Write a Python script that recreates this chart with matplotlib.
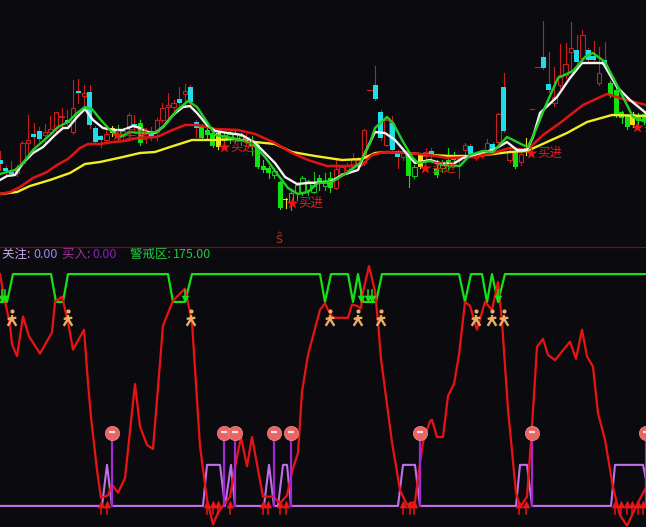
import matplotlib
matplotlib.use('Agg')
import matplotlib.pyplot as plt
from matplotlib.path import Path

plt.rcParams['font.family'] = ['Noto Sans CJK SC', 'DejaVu Sans']

BG = '#0b0b0f'
BAR = 5.6  # one candle every 5.6 units on the time axis

# candles, price axis runs downwards
body_top = [160,168,172,170,143,140,134,131,132,129,112,116,120,108,91,93,92,128,136,134,128,130,131,115,124,123,130,134,120,108,105,103,99,91,87,122,126,130,133,133,135,134,133,136,137,140,145,166,168,171,182,199,193,185,178,181,185,178,180,178,169,167,165,158,160,130,90,85,112,120,123,153,153,155,167,155,152,151,168,163,160,155,157,145,146,155,152,143,144,114,87,152,153,154,148,109,67,57,84,97,75,64,48,50,35,50,56,73,60,83,90,112,115,114,115,114]
body_bot = [164,171,174,173,163,143,137,139,135,132,128,117,123,132,93,96,125,142,140,140,133,137,136,127,127,143,137,137,132,120,107,107,103,94,102,128,138,135,146,147,140,139,138,140,142,146,167,170,173,175,208,200,202,193,192,190,192,183,186,188,188,173,170,167,166,163,90,99,138,145,150,157,157,176,176,167,156,156,175,168,165,160,160,150,154,158,156,150,152,142,131,160,167,162,152,109,67,68,90,103,85,75,52,62,58,60,60,83,65,95,115,118,127,125,121,121]
wick_hi = [151,166,161,165,141,115,123,127,124,116,112,108,110,80,79,85,85,126,135,127,126,125,128,113,115,120,128,127,118,103,93,100,87,84,85,120,124,128,130,131,132,131,130,133,134,136,143,160,166,168,181,198,190,183,176,180,172,175,173,172,160,165,163,153,157,129,90,66,110,118,116,150,150,153,165,153,148,148,160,160,148,152,156,143,144,152,150,139,142,113,73,148,152,152,138,109,67,21,52,67,44,43,22,35,30,48,41,47,42,81,88,111,114,112,113,112]
wick_lo = [170,175,176,176,165,153,145,141,145,135,132,126,125,134,103,107,128,143,147,143,136,142,140,140,130,145,143,140,140,122,117,115,105,107,104,137,140,140,147,149,146,143,142,145,146,155,168,172,178,178,209,208,210,200,195,195,193,190,190,192,189,176,174,170,170,165,90,100,140,146,152,168,160,187,178,168,160,160,177,172,170,165,178,155,156,160,158,152,154,144,132,162,168,165,155,109,67,69,92,106,88,78,70,63,60,62,62,85,67,97,117,123,129,127,127,124]
kinds = ('cccrrrccrrrrcrcrcccry' 'hrrcgrcrrrrcrccgggyh' 'hhhrgggghgyhhhhhghgr'
         'rrrrrrccrccrghyrcghg' 'grrcrrrcrcrgryrrccrr' 'rrcrccrcggggygg')

# moving averages
white_x = [0,7,15,23,33,43,55,63,68,77,85,93,103,113,123,133,140,147,155,163,173,183,190,197,207,215,228,242,255,265,275,285,297,308,330,342,358,365,375,385,395,408,415,430,440,453,463,480,493,507,517,527,533,540,557,570,582,603,617,630,646]
white_y = [180,176,175,163,153,147,135,128,128,117,109,120,128,130,130,126,128,132,133,127,115,107,106,113,125,131,133,135,143,153,163,177,184,183,182,175,170,153,132,133,140,155,163,160,163,164,158,153,150,142,150,150,137,113,97,78,63,63,87,100,113]
green_x = [0,7,15,23,33,42,50,58,68,77,85,92,100,110,120,130,140,148,157,167,177,188,197,207,215,232,252,265,278,288,298,308,318,332,348,360,370,375,387,393,402,412,418,430,443,460,470,483,493,507,523,528,537,545,558,573,585,593,605,617,633,646]
green_y = [174,172,170,163,150,142,135,127,122,113,107,109,119,130,137,132,133,133,132,123,110,101,107,122,135,138,143,157,175,188,194,192,183,182,172,163,143,128,117,123,140,157,163,161,165,166,155,151,152,137,145,147,127,107,78,71,57,53,62,85,117,122]
red_ma_x = [0,10,20,33,47,57,68,80,88,100,113,125,137,157,170,185,197,207,215,238,255,275,292,308,327,347,362,372,385,408,430,447,473,493,510,527,543,560,583,607,623,646]
red_ma_y = [194,192,187,178,172,165,159,148,144,144,142,141,138,137,131,125,125,127,129,130,134,143,153,160,166,166,165,155,152,153,155,158,157,153,148,150,135,123,105,94,99,105]
yellow_x = [0,17,30,50,70,85,100,123,140,155,170,192,205,215,235,255,275,292,315,342,362,375,388,408,430,450,473,493,510,527,547,567,587,612,646]
yellow_y = [194,192,186,180,173,164,162,157,153,152,147,140,140,140,139,142,144,152,156,160,159,153,152,153,155,156,156,154,152,151,142,133,122,115,116]

# buy signals on the price panel
buy_x = [117, 224, 292, 425, 531, 637]
buy_y = [135, 147, 203, 168, 153, 127]
buy_label = '买进'

# indicator panel
warn_x = [0,7,13,51,56,63,68,168,173,185,192,320,325,331,348,353,358,363,376,382,459,465,471,482,487,492,498,505,646]
warn_v = [154,154,175,175,154,154,175,175,154,154,175,175,154,175,175,154,175,154,154,175,175,154,175,175,154,175,154,175,175]
focus_x = [0,102,107,112,203,207,220,225,231,235,264,269,274,278,283,287,291,398,403,415,420,516,520,527,532,611,615,643,646]
focus_v = [0,0,31,0,0,31,31,0,31,0,0,31,0,0,31,31,0,0,31,31,0,0,31,31,0,0,31,31,20]
osc_x = [0,4,10,12,17,23,29,40,52,55,62,68,73,84,88,91,97,101,108,112,118,125,135,140,147,153,163,173,185,192,200,207,213,
         218,230,237,241,247,252,263,273,280,287,292,298,302,308,320,325,328,333,348,352,357,361,362,369,375,378,381,392,400,407,415,419,423,430,
         432,437,443,448,454,459,465,470,477,485,492,498,502,508,516,520,527,532,537,543,548,555,570,576,582,587,593,598,605,613,620,627,637,646]
osc_v = [175,158,137,122,113,143,128,115,131,154,158,139,118,133,93,67,27,6,8,16,10,21,92,60,46,43,136,155,164,139,45,5,-14,
         -5,7,37,52,30,52,7,7,2,8,26,40,86,114,148,153,148,142,142,152,151,149,158,181,162,139,111,48,12,1,3,27,48,64,
         65,52,52,83,92,114,154,151,133,154,148,169,139,73,10,-1,7,60,120,126,114,110,124,111,133,113,105,70,50,14,-7,-15,1,14]
ball_x = [112, 224, 235, 274, 291, 420, 532, 646]
ball_v = 55
runner_x = [12, 68, 191, 330, 358, 381, 476, 492, 504]
runner_v = 140
up_x = [101,107,207,213,218,230,263,268,280,286,403,410,414,519,526,615,621,627,632,638,643]
down_x = [2,5,185,361,368,372,498]

colors = {'r': '#c81e1e', 'c': '#1fdde6', 'g': '#14e014', 'h': '#14c814', 'y': '#e8e020'}
hollow = {'r', 'h'}

fig = plt.figure(figsize=(6.46, 5.27), dpi=100, facecolor=BG)
ax = fig.add_axes([0, 1 - 246 / 527, 1, 246 / 527], facecolor=BG)
ax2 = fig.add_axes([0, 0, 1, 281 / 527], facecolor=BG)

for a in (ax, ax2):
    a.set_xlim(0, 646)
    a.axis('off')
ax.set_ylim(246, 0)
ax2.set_ylim(-15.9, 196.2)

for i in range(116):
    x = i * BAR
    c = colors[kinds[i]]
    wick = colors['r'] if kinds[i] == 'c' else c
    ax.plot([x, x], [wick_hi[i], body_top[i]], color=wick, lw=0.8, zorder=1)
    ax.plot([x, x], [body_bot[i], wick_lo[i]], color=wick, lw=0.8, zorder=1)
    if body_top[i] == body_bot[i]:
        ax.plot([x - 2.3, x + 2.3], [body_top[i]] * 2, color=c, lw=0.8, zorder=1)
    elif kinds[i] in hollow:
        ax.bar(x, body_bot[i] - body_top[i], 4.4, bottom=body_top[i], facecolor=BG, edgecolor=c, lw=0.8, zorder=2)
    else:
        ax.bar(x, body_bot[i] - body_top[i], 5, bottom=body_top[i], color=c, lw=0, zorder=2)

ax.plot(yellow_x, yellow_y, color='#f2ee20', lw=1.7, zorder=3)
ax.plot(red_ma_x, red_ma_y, color='#e01414', lw=1.8, zorder=4)
ax.plot(white_x, white_y, color='#f4f4f4', lw=1.7, zorder=5)
ax.plot(green_x, green_y, color='#22d022', lw=1.7, zorder=6)

ax.scatter(buy_x, buy_y, marker='*', s=80, color='#f01414', lw=0, zorder=7)
for bx, by in zip(buy_x, buy_y):
    ax.text(bx + 6, by, buy_label, color='#d82020', fontsize=9, va='center', ha='left', zorder=7)
ax.text(279, 239, 'ŝ', color='#c02020', fontsize=10, ha='center', va='center')

# separator between the panels
fig.add_artist(plt.Line2D([0, 1], [1 - 246.5 / 527] * 2, color='#701020', lw=0.9))

ax2.plot(focus_x, focus_v, color='#c070e8', lw=1.5, zorder=3)
ax2.plot(warn_x, warn_v, color='#18e018', lw=1.6, zorder=3)
ax2.plot(osc_x, osc_v, color='#e81414', lw=1.6, zorder=4)

for bx in ball_x:
    ax2.plot([bx, bx], [0, ball_v], color='#a028d0', lw=1.6, zorder=5)
ax2.scatter(ball_x, [ball_v] * len(ball_x), s=105, color='#ea6464', edgecolors='#f09090', lw=0.5, zorder=6)
ax2.scatter(ball_x, [ball_v + 1] * len(ball_x), s=22, marker='_', color='#fbe0e0', lw=1.6, zorder=7)

for ux in up_x:
    ax2.plot([ux, ux], [-6, 1], color='#f01414', lw=1.1, zorder=6)
ax2.scatter(up_x, [1.5] * len(up_x), marker='^', s=30, color='#f01414', lw=0, zorder=6)
for dx in down_x:
    ax2.plot([dx, dx], [158, 163], color='#18e018', lw=1.1, zorder=6)
ax2.scatter(down_x, [156.5] * len(down_x), marker='v', s=30, color='#18e018', lw=0, zorder=6)

# little running man
runner = Path([(0, 1), (0, 0.3), (-0.8, -1), (0, 0.3), (0.8, -1), (-0.8, 0.3), (0.8, 0.5)],
              [Path.MOVETO, Path.LINETO, Path.LINETO, Path.MOVETO, Path.LINETO, Path.MOVETO, Path.LINETO])
ax2.scatter(runner_x, [runner_v] * len(runner_x), marker=runner, s=60, facecolors='none', edgecolors='#eeb060', lw=1.7, zorder=7)
ax2.scatter(runner_x, [runner_v + 7] * len(runner_x), s=9, color='#eeb060', lw=0, zorder=7)

labels = [(2, '关注: ', '#c8a8e8'), (33, '0.00', '#9a86e8'), (62, '买入: ', '#a03498'), (92, '0.00', '#8a1cb8'),
          (130, '警戒区: ', '#20c840'), (173, '175.00', '#20c840')]
for lx, s, c in labels:
    ax2.text(lx, 190, s, color=c, fontsize=9, va='center', ha='left')

fig.savefig('out.png', dpi=100, facecolor=BG)
